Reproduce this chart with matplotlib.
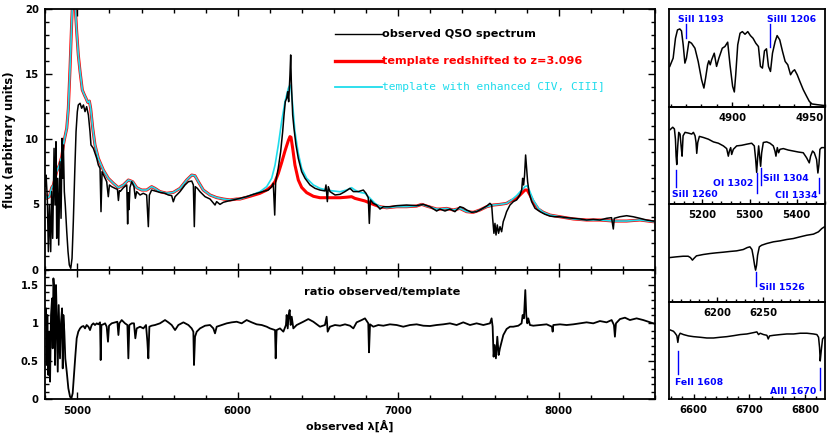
import matplotlib
matplotlib.use('Agg')
import matplotlib.pyplot as plt
from matplotlib.ticker import MultipleLocator, FixedLocator, FormatStrFormatter

plt.rcParams['font.family'] = ['DejaVu Sans']
plt.rcParams['font.weight'] = 'bold'

# ── observed QSO spectrum (main panel) ────────────────────────────────────────
OBS_WAVE = [4800, 4805, 4813, 4819.5, 4826, 4834, 4840, 4846.5, 4855, 4861,
            4867, 4871.5, 4878, 4884, 4892, 4898.5, 4905, 4909, 4913, 4919,
            4925, 4934, 4942, 4950, 4959, 4967, 4975, 4984, 4992, 5000,
            5006, 5017, 5027, 5038, 5048, 5058, 5069, 5079, 5085, 5100,
            5121, 5131, 5141.5, 5147.5, 5154, 5173, 5183, 5193, 5200, 5214,
            5235, 5250, 5256, 5262, 5268, 5287, 5308, 5313.5, 5317.5, 5322,
            5328, 5339, 5353, 5361.5, 5370, 5391, 5411, 5432, 5442.5, 5449,
            5463, 5484, 5515, 5546, 5567, 5588, 5598, 5609, 5640, 5671,
            5692, 5713, 5723, 5729, 5735, 5748, 5764, 5796, 5827, 5858,
            5868, 5889, 5910, 5941, 5972, 6014, 6055, 6097, 6138, 6170,
            6190, 6211, 6221, 6230, 6236, 6252, 6267, 6279.5, 6288, 6296,
            6304.5, 6311, 6317, 6321, 6325, 6329.5, 6333.5, 6338, 6342, 6350,
            6362.5, 6377, 6398, 6419, 6450, 6481, 6512, 6543, 6549.5, 6558,
            6564, 6574.5, 6606, 6637, 6668, 6699, 6720, 6751, 6782, 6799,
            6813, 6819.5, 6826, 6844, 6865, 6886, 6907, 6948, 6990, 7052,
            7114, 7156, 7197.5, 7239, 7260, 7291, 7322, 7353, 7384, 7405,
            7426, 7457, 7488, 7519, 7551, 7571, 7582, 7588, 7596, 7602.5,
            7609, 7617, 7625, 7634, 7644, 7654, 7665, 7675, 7696, 7717,
            7737.5, 7758, 7769, 7775, 7781, 7787, 7793.5, 7800, 7806, 7816,
            7831, 7852, 7883, 7914, 7945, 7976, 8007, 8049, 8090.5, 8132,
            8174, 8215, 8257, 8298, 8329, 8340, 8346, 8381, 8423, 8464,
            8506, 8547.5, 8589, 8600]
OBS_FLUX = [6.40, 7.25, 5.47, 1.37, 4.95, 1.37, 5.98, 2.39, 9.30, 4.95,
            9.81, 2.39, 7.00, 1.88, 8.28, 3.93, 10.07, 7.00, 9.56, 5.98,
            4.95, 2.92, 1.37, 0.35, 0.09, 0.86, 3.67, 7.51, 10.58, 12.12,
            12.63, 12.76, 12.38, 12.63, 12.12, 12.50, 11.86, 10.58, 9.56, 9.30,
            8.53, 8.02, 7.77, 4.44, 7.51, 7.00, 6.74, 5.59, 6.49, 6.36,
            6.23, 6.15, 5.30, 6.05, 6.00, 6.28, 6.49, 3.50, 5.90, 4.60,
            6.30, 6.74, 6.36, 5.47, 5.98, 5.72, 5.85, 5.72, 3.29, 5.72,
            6.10, 6.03, 5.92, 5.85, 5.72, 5.67, 5.20, 5.59, 5.98, 6.49,
            6.74, 6.79, 6.49, 3.29, 6.36, 6.23, 5.98, 5.59, 5.41, 4.95,
            5.21, 5.00, 5.16, 5.26, 5.34, 5.47, 5.59, 5.77, 5.92, 6.03,
            6.10, 6.36, 6.62, 4.18, 6.74, 7.77, 9.04, 10.58, 11.86, 12.88,
            13.14, 13.65, 12.88, 13.91, 14.93, 16.47, 14.42, 13.14, 11.86, 10.84,
            9.56, 8.53, 7.51, 7.00, 6.49, 6.23, 6.10, 6.03, 6.49, 5.21,
            6.36, 5.98, 5.72, 5.77, 5.98, 6.23, 5.98, 5.98, 6.10, 5.85,
            5.51, 3.54, 5.34, 5.08, 4.95, 4.64, 4.82, 4.82, 4.90, 4.95,
            4.90, 5.00, 4.82, 4.49, 4.64, 4.49, 4.64, 4.44, 4.82, 4.74,
            4.57, 4.39, 4.44, 4.64, 4.87, 5.08, 4.95, 3.93, 2.78, 3.54,
            2.65, 3.42, 2.78, 3.29, 2.90, 3.67, 4.05, 4.44, 4.95, 5.21,
            5.34, 5.72, 6.10, 7.00, 6.49, 7.25, 8.79, 7.77, 6.74, 5.85,
            5.21, 4.70, 4.44, 4.24, 4.10, 4.05, 4.05, 3.98, 3.93, 3.88,
            3.80, 3.85, 3.80, 3.93, 3.98, 3.11, 3.93, 4.05, 4.13, 4.05,
            3.93, 3.80, 3.72, 3.72]

# ── templates (redshifted, and with enhanced CIV / CIII]) ─────────────────────
TPL_WAVE = [4800, 4809, 4826, 4834, 4840, 4851, 4861, 4871, 4888, 4903,
            4913, 4923, 4934, 4944, 4954.5, 4965, 4971, 4977, 4984, 4990,
            4996, 5006, 5017, 5031, 5044, 5054, 5065, 5075, 5083, 5096,
            5110, 5131, 5162, 5193, 5225, 5256, 5287, 5318, 5345, 5370,
            5401, 5432, 5463, 5484, 5515, 5557, 5598, 5640, 5681.5, 5713,
            5733, 5754, 5785, 5827, 5868, 5910, 5951, 5993, 6014, 6076,
            6138, 6180, 6211, 6232, 6252.5, 6273, 6294, 6315, 6325, 6331.5,
            6342, 6356, 6377, 6398, 6429, 6471, 6512, 6554, 6595, 6637,
            6678, 6709, 6730, 6761, 6792.5, 6824, 6855, 6886, 6927.5, 6990,
            7052, 7114, 7146, 7177, 7239, 7260, 7301, 7343, 7384, 7426,
            7467.5, 7509, 7551, 7592, 7634, 7675, 7706, 7737.5, 7769, 7789,
            7804, 7820.5, 7841, 7872.5, 7904, 7945, 8007, 8090.5, 8174, 8257,
            8340, 8423, 8506, 8589, 8600]
TPL_CYAN = [5.72, 5.47, 5.59, 5.98, 6.28, 6.49, 7.00, 7.51, 8.02, 8.66,
            9.56, 10.20, 10.84, 12.37, 15.44, 19.03, 20.8, 21.3, 20.8, 19.5,
            18.26, 16.47, 15.19, 13.78, 13.40, 13.14, 12.83, 12.93, 12.37, 10.84,
            9.56, 8.53, 7.64, 7.00, 6.61, 6.28, 6.49, 6.87, 6.74, 6.28,
            6.10, 6.10, 6.36, 6.23, 5.98, 5.85, 5.92, 6.23, 6.87, 7.25,
            7.20, 6.74, 6.10, 5.72, 5.52, 5.41, 5.34, 5.41, 5.41, 5.67,
            5.97, 6.36, 7.00, 8.02, 9.56, 11.35, 12.88, 13.91, 14.17, 13.91,
            12.63, 10.58, 8.92, 7.77, 7.00, 6.49, 6.23, 6.10, 6.03, 5.97,
            6.10, 6.28, 6.10, 5.92, 5.85, 5.47, 5.08, 4.82, 4.74, 4.82,
            4.82, 4.87, 5.00, 4.87, 4.64, 4.64, 4.69, 4.57, 4.69, 4.44,
            4.39, 4.57, 4.82, 4.95, 5.00, 5.08, 5.34, 5.67, 6.10, 6.36,
            6.43, 5.97, 5.34, 4.70, 4.39, 4.18, 4.05, 3.88, 3.80, 3.80,
            3.72, 3.72, 3.80, 3.67, 3.67]
TPL_RED = [5.72, 5.47, 5.59, 5.98, 6.28, 6.49, 7.00, 7.51, 8.02, 8.66,
           9.56, 10.20, 10.84, 12.37, 15.44, 19.03, 20.8, 21.3, 20.8, 19.5,
           18.26, 16.47, 15.19, 13.78, 13.40, 13.14, 12.83, 12.93, 12.37, 10.84,
           9.56, 8.53, 7.64, 7.00, 6.61, 6.28, 6.49, 6.87, 6.74, 6.28,
           6.10, 6.10, 6.36, 6.23, 5.98, 5.85, 5.92, 6.23, 6.87, 7.25,
           7.20, 6.74, 6.10, 5.72, 5.52, 5.41, 5.34, 5.41, 5.41, 5.62,
           5.85, 6.10, 6.40, 6.75, 7.38, 8.20, 9.10, 9.90, 10.20, 10.15,
           9.30, 8.02, 6.87, 6.30, 5.90, 5.62, 5.51, 5.51, 5.51, 5.51,
           5.55, 5.59, 5.46, 5.36, 5.26, 5.10, 4.95, 4.82, 4.74, 4.82,
           4.82, 4.87, 5.00, 4.87, 4.64, 4.64, 4.69, 4.57, 4.69, 4.44,
           4.39, 4.57, 4.82, 4.95, 5.00, 5.08, 5.30, 5.46, 5.85, 6.10,
           6.10, 5.72, 5.21, 4.64, 4.39, 4.18, 4.05, 3.88, 3.80, 3.80,
           3.72, 3.72, 3.80, 3.67, 3.67]

# ── ratio observed / template ─────────────────────────────────────────────────
RATIO_WAVE = [4801, 4805, 4809, 4813, 4819.5, 4826, 4830, 4836, 4842.5, 4846.5,
              4851, 4857, 4861, 4867, 4871.5, 4878, 4884, 4888, 4892, 4898.5,
              4905, 4909, 4913, 4919, 4925, 4934, 4944, 4954.5, 4963, 4971,
              4979, 4988, 4996, 5006, 5017, 5027, 5038, 5048, 5058, 5069,
              5079, 5089.5, 5100, 5110, 5121, 5131, 5141.5, 5145.5, 5150, 5162,
              5173, 5183, 5191, 5197.5, 5214, 5235, 5249.5, 5256, 5262, 5276.5,
              5297, 5312, 5318, 5324, 5339, 5353, 5361.5, 5370, 5391, 5411.5,
              5428, 5436.5, 5442.5, 5449, 5463, 5484, 5515, 5546.5, 5567, 5588,
              5609, 5629.5, 5661, 5692, 5712.5, 5723, 5727, 5733.5, 5744, 5764.5,
              5796, 5827, 5847.5, 5858, 5868.5, 5899.5, 5931, 5962, 5993, 6024,
              6055, 6086.5, 6117.5, 6149, 6180, 6200.5, 6232, 6236, 6242, 6263,
              6284, 6300, 6304.5, 6311, 6317, 6323, 6329.5, 6336, 6346, 6367,
              6408, 6439.5, 6470.5, 6512, 6543, 6553.5, 6560, 6574.5, 6605.5, 6637,
              6668, 6699, 6720, 6740.5, 6772, 6792.5, 6813, 6817.5, 6824, 6844.5,
              6875.5, 6907, 6948, 6990, 7031, 7073, 7114.5, 7156, 7197.5, 7239,
              7280.5, 7322, 7363.5, 7405, 7447, 7488, 7530, 7571.5, 7581.5, 7588,
              7594, 7600.5, 7608.5, 7617, 7625.5, 7633.5, 7644, 7654.5, 7675, 7696,
              7716.5, 7748, 7768.5, 7775, 7783, 7791.5, 7797.5, 7804, 7810, 7820.5,
              7841, 7883, 7924.5, 7957.5, 7962, 7966, 8007.5, 8049, 8090.5, 8132,
              8173.5, 8215, 8256.5, 8298, 8329.5, 8344, 8350, 8356.5, 8381.5, 8412.5,
              8443.5, 8485, 8526.5, 8558, 8589, 8600]
RATIO_VAL = [0.974, 1.192, 0.451, 1.105, 0.320, 0.887, 0.233, 1.105, 1.322, 0.669,
             1.584, 1.410, 0.451, 1.497, 1.105, 0.364, 1.235, 0.887, 0.538, 1.017,
             1.192, 0.407, 1.105, 0.887, 0.538, 0.364, 0.146, 0.037, 0.015, 0.081,
             0.320, 0.582, 0.800, 0.887, 0.930, 0.952, 0.961, 0.930, 0.974, 0.952,
             0.908, 0.974, 0.996, 0.974, 0.996, 0.983, 1.009, 0.516, 0.974, 0.983,
             0.996, 0.952, 0.756, 0.965, 0.996, 1.009, 1.017, 0.843, 0.996, 1.039,
             0.996, 0.974, 0.538, 0.974, 0.996, 0.996, 0.800, 0.930, 0.952, 0.930,
             0.974, 0.756, 0.538, 0.952, 0.965, 0.974, 0.996, 1.039, 1.009, 0.974,
             0.908, 0.974, 1.009, 0.974, 0.930, 0.887, 0.451, 0.821, 0.887, 0.930,
             0.965, 0.974, 0.930, 0.865, 0.952, 0.974, 0.996, 1.009, 1.017, 0.996,
             1.039, 1.009, 0.983, 0.974, 0.952, 0.930, 0.908, 0.538, 0.908, 0.930,
             0.887, 0.974, 1.105, 0.930, 1.105, 1.170, 0.974, 1.083, 0.930, 0.974,
             1.017, 1.052, 1.017, 0.952, 0.974, 1.083, 0.887, 0.952, 0.974, 0.965,
             0.983, 0.965, 0.930, 1.009, 1.039, 1.061, 0.996, 0.617, 0.983, 0.952,
             0.974, 0.965, 0.983, 0.974, 0.952, 0.974, 0.983, 0.965, 0.961, 0.974,
             0.983, 0.996, 0.974, 1.009, 0.974, 0.996, 0.974, 0.996, 1.061, 0.952,
             0.560, 0.712, 0.538, 0.821, 0.582, 0.669, 0.756, 0.843, 0.922, 0.952,
             0.952, 0.965, 0.996, 1.105, 1.061, 1.431, 1.105, 0.996, 1.061, 0.974,
             0.965, 0.974, 0.983, 0.952, 0.887, 0.974, 0.983, 0.974, 0.983, 0.996,
             1.009, 0.996, 1.026, 1.009, 1.039, 0.974, 0.821, 0.996, 1.052, 1.070,
             1.039, 1.061, 1.039, 1.017, 0.996, 0.990]

# ── zoomed windows (right column) ─────────────────────────────────────────────
Z1_WAVE = [4859.5, 4861.7, 4863.2, 4864.5, 4866.0, 4867.1, 4868.2, 4869.3, 4870.3, 4871.9,
           4873.6, 4875.8, 4877.9, 4880.1, 4881.6, 4882.7, 4884.0, 4884.8, 4885.7, 4886.6,
           4888.3, 4889.8, 4891.3, 4893.5, 4895.2, 4897.0, 4898.5, 4900.2, 4901.3, 4902.2,
           4903.5, 4905.0, 4906.5, 4908.2, 4910.0, 4911.7, 4913.4, 4915.2, 4916.9, 4918.2,
           4919.5, 4920.8, 4922.1, 4923.4, 4924.7, 4926.0, 4927.7, 4929.0, 4930.7, 4932.5,
           4934.2, 4935.9, 4937.7, 4939.0, 4940.3, 4942.0, 4943.7, 4945.9, 4948.1, 4949.8,
           4951.5, 4954.8, 4960.2]
Z1_FLUX = [4.53, 5.46, 7.70, 8.64, 8.75, 8.53, 6.96, 4.90, 5.46, 7.33,
           7.14, 6.58, 5.09, 3.03, 2.09, 3.22, 4.71, 5.16, 4.71, 5.27,
           6.02, 4.53, 5.46, 6.58, 6.77, 7.26, 4.71, 2.28, 1.65, 3.59,
           6.96, 8.27, 8.45, 8.15, 8.45, 8.00, 7.70, 7.14, 6.77, 4.53,
           4.34, 6.28, 6.51, 4.53, 3.96, 6.02, 7.33, 8.00, 7.52, 6.21,
           5.09, 4.71, 3.59, 3.96, 4.15, 3.59, 2.84, 1.91, 1.16, 0.60,
           0.30, 0.22, 0.11]

Z2_WAVE = [5131.4, 5137.0, 5140.5, 5142.7, 5144.1, 5145.5, 5147.6, 5149.7, 5152.5, 5154.7,
           5156.8, 5158.9, 5163.1, 5170.2, 5177.3, 5180.8, 5184.3, 5186.4, 5187.9, 5190.0,
           5193.5, 5202.0, 5212.6, 5223.2, 5233.8, 5244.4, 5251.4, 5254.9, 5257.1, 5259.9,
           5262.0, 5265.5, 5272.6, 5283.2, 5293.8, 5304.4, 5310.0, 5312.9, 5315.0, 5317.1,
           5319.2, 5321.3, 5323.4, 5325.6, 5329.1, 5336.2, 5343.2, 5350.3, 5353.8, 5355.9,
           5358.8, 5361.6, 5364.4, 5371.5, 5382.1, 5392.7, 5403.2, 5413.8, 5420.9, 5426.6,
           5429.4, 5433.6, 5437.2, 5442.1, 5444.9, 5447.1, 5449.2, 5452.7, 5458.4]
Z2_FLUX = [6.11, 6.31, 6.17, 5.33, 3.94, 3.25, 4.78, 5.89, 5.75, 4.78,
           3.94, 5.61, 5.89, 5.83, 5.75, 5.89, 5.61, 5.06, 4.17, 5.06,
           5.56, 5.47, 5.33, 5.11, 5.00, 4.78, 4.56, 3.94, 4.36, 4.64,
           4.08, 4.50, 4.78, 4.83, 4.92, 5.00, 4.78, 3.67, 2.61, 3.81,
           4.78, 3.94, 3.11, 4.22, 5.06, 5.11, 5.00, 4.78, 4.36, 3.94,
           4.64, 4.22, 4.50, 4.56, 4.44, 4.36, 4.28, 4.22, 3.81, 3.39,
           3.94, 4.36, 4.22, 3.67, 2.56, 3.25, 4.50, 4.64, 4.64]

Z3_WAVE = [6147.8, 6155.1, 6162.5, 6168.0, 6170.5, 6172.7, 6174.2, 6177.1, 6184.4, 6191.8,
           6199.1, 6206.4, 6213.7, 6221.1, 6228.4, 6232.8, 6235.7, 6237.9, 6239.4, 6240.8,
           6241.9, 6243.0, 6244.1, 6246.0, 6248.5, 6254.0, 6261.4, 6268.7, 6276.0, 6283.3,
           6290.7, 6298.0, 6305.3, 6310.8, 6314.5, 6317.4]
Z3_FLUX = [3.63, 3.69, 3.74, 3.74, 3.63, 3.42, 3.55, 3.77, 3.88, 3.96,
           4.02, 4.07, 4.13, 4.18, 4.29, 4.45, 4.51, 4.29, 3.69, 3.01,
           2.60, 3.01, 3.82, 4.51, 4.64, 4.78, 4.92, 5.00, 5.11, 5.19,
           5.33, 5.46, 5.55, 5.74, 6.01, 6.15]

Z4_WAVE = [6558.1, 6564.1, 6567.1, 6570.1, 6571.9, 6573.7, 6576.1, 6582.0, 6591.0, 6600.0,
           6612.0, 6623.9, 6635.9, 6647.9, 6659.8, 6671.8, 6683.8, 6695.8, 6707.7, 6713.7,
           6716.7, 6719.7, 6725.7, 6731.7, 6734.1, 6736.4, 6743.6, 6755.6, 6767.6, 6779.5,
           6791.5, 6803.5, 6815.4, 6821.4, 6824.4, 6826.2, 6827.4, 6829.2, 6831.6, 6835.2]
Z4_FLUX = [5.70, 5.59, 5.43, 5.23, 4.68, 5.23, 5.43, 5.32, 5.21, 5.15,
           5.10, 5.04, 5.04, 5.10, 5.15, 5.23, 5.32, 5.37, 5.48, 5.54,
           5.32, 5.43, 5.32, 5.26, 4.96, 5.21, 5.26, 5.32, 5.37, 5.37,
           5.43, 5.43, 5.37, 5.32, 5.10, 4.26, 3.16, 3.99, 4.96, 5.15]

# tick labels shown under each zoom window
Z1_TICKS = [4900, 4950]
Z2_TICKS = [5200, 5300, 5400]
Z3_TICKS = [6200, 6250]
Z4_TICKS = [6600, 6700, 6800]

# line ids: (label, line wave, line y0, line y1, text x, text y, alignment)
Z1_LINES = [('SiII 1193', 4869.7, 7.70, 9.28, 4865.0, 9.76, 'left'),
            ('SiIII 1206', 4924.7, 6.77, 9.28, 4922.3, 9.76, 'left')]
Z2_LINES = [('SiII 1260', 5144.1, 1.44, 2.83, 5134.9, 0.83, 'left'),
            ('OI 1302', 5315.0, 0.94, 2.56, 5307.8, 1.67, 'right'),
            ('SiII 1304', 5323.4, 1.58, 2.97, 5329.1, 2.14, 'left'),
            ('CII 1334', 5447.8, 0.89, 2.14, 5443.4, 0.75, 'right')]
Z3_LINES = [('SiII 1526', 6241.9, 1.28, 2.46, 6246.0, 1.18, 'left')]
Z4_LINES = [('FeII 1608', 6571.3, 2.10, 3.99, 6567.1, 1.36, 'left'),
            ('AlII 1670', 6827.4, 0.80, 2.60, 6820.2, 0.66, 'right')]

RED = '#ff0000'
CYAN = '#1fdcec'
BLUE = '#0000ff'
TICK_FS = 7.3

fig = plt.figure(figsize=(8.3, 4.38), dpi=100)
ax_top = fig.add_axes([0.0545, 0.3847, 0.7347, 0.5948])
ax_rat = fig.add_axes([0.0545, 0.0879, 0.7347, 0.2968])


def style_main(ax):
    ax.tick_params(which='both', direction='in', top=True, right=True,
                   labelsize=TICK_FS, width=1.0, pad=4.5)
    ax.tick_params(which='major', length=5.2)
    ax.tick_params(which='minor', length=2.8)
    ax.xaxis.set_major_locator(MultipleLocator(1000))
    ax.xaxis.set_minor_locator(MultipleLocator(200))
    ax.set_xlim(4800, 8600)
    for s in ax.spines.values():
        s.set_linewidth(1.3)


# ── top: spectrum + templates ─────────────────────────────────────────────────
ax = ax_top
ax.plot(TPL_WAVE, TPL_RED, color=RED, lw=2.2, zorder=1)
ax.plot(TPL_WAVE, TPL_CYAN, color=CYAN, lw=1.2, zorder=2)
ax.plot(OBS_WAVE, OBS_FLUX, color='black', lw=1.1, zorder=3)
style_main(ax)
ax.set_ylim(0, 20)
ax.yaxis.set_major_locator(MultipleLocator(5))
ax.yaxis.set_minor_locator(MultipleLocator(1))
ax.tick_params(labelbottom=False)
ax.set_ylabel('flux (arbitrary units)', fontsize=8.5, fontweight='bold', labelpad=6)

legend_rows = [('observed QSO spectrum', 'black', 1.0, 0.903, 'DejaVu Sans', 'bold'),
               ('template redshifted to z=3.096', RED, 2.4, 0.8015, 'DejaVu Sans', 'bold'),
               ('template with enhanced CIV, CIII]', CYAN, 1.3, 0.7017, 'DejaVu Sans Mono', 'normal')]
for label, col, lw, yy, fam, wt in legend_rows:
    ax.plot([0.4752, 0.5523], [yy, yy], color=col, lw=lw, transform=ax.transAxes)
    ax.text(0.5523, yy, label, color=col, fontsize=8.1, family=fam, fontweight=wt,
            ha='left', va='center', transform=ax.transAxes)

# ── bottom: ratio ─────────────────────────────────────────────────────────────
ax = ax_rat
ax.plot(RATIO_WAVE, RATIO_VAL, color='black', lw=1.3)
style_main(ax)
ax.set_ylim(0, 1.7)
ax.yaxis.set_major_locator(MultipleLocator(0.5))
ax.yaxis.set_minor_locator(MultipleLocator(0.1))
ax.yaxis.set_major_formatter(FormatStrFormatter('%g'))
ax.text(6900, 1.41, 'ratio observed/template', fontsize=8.2, fontweight='bold',
        ha='center', va='center')
ax.set_xlabel('observed λ[Å]', fontsize=8, fontweight='bold', labelpad=3)

# ── right column: zoomed windows ──────────────────────────────────────────────
panels = [(Z1_WAVE, Z1_FLUX, Z1_LINES, Z1_TICKS, (4859, 4960), (0, 11), 10),
          (Z2_WAVE, Z2_FLUX, Z2_LINES, Z2_TICKS, (5129, 5460), (0, 8), 20),
          (Z3_WAVE, Z3_FLUX, Z3_LINES, Z3_TICKS, (6147, 6318), (0, 8), 10),
          (Z4_WAVE, Z4_FLUX, Z4_LINES, Z4_TICKS, (6556, 6836), (0, 8), 20)]
h = (0.9795 - 0.0879) / 4
for k, (wv, fx, lines, ticks, xlim, ylim, minor) in enumerate(panels):
    axr = fig.add_axes([0.806, 0.9795 - (k + 1) * h, 0.188, h])
    axr.set_facecolor('none')
    axr.plot(wv, fx, color='black', lw=1.1)
    for label, lx, y0, y1, tx, ty, ha in lines:
        axr.plot([lx, lx], [y0, y1], color=BLUE, lw=1.0)
        axr.text(tx, ty, label, color=BLUE, fontsize=6.7, fontweight='bold',
                 ha=ha, va='center')
    axr.set_xlim(*xlim)
    axr.set_ylim(*ylim)
    axr.set_yticks([])
    axr.xaxis.set_major_locator(FixedLocator(ticks))
    axr.xaxis.set_minor_locator(MultipleLocator(minor))
    axr.tick_params(axis='x', which='both', direction='in', bottom=True, top=False,
                    labelsize=TICK_FS, width=1.0, pad=4.3)
    axr.tick_params(axis='x', which='major', length=3.8)
    axr.tick_params(axis='x', which='minor', length=2.0)
    for s in axr.spines.values():
        s.set_linewidth(1.3)

fig.savefig('out.png', dpi=100)
